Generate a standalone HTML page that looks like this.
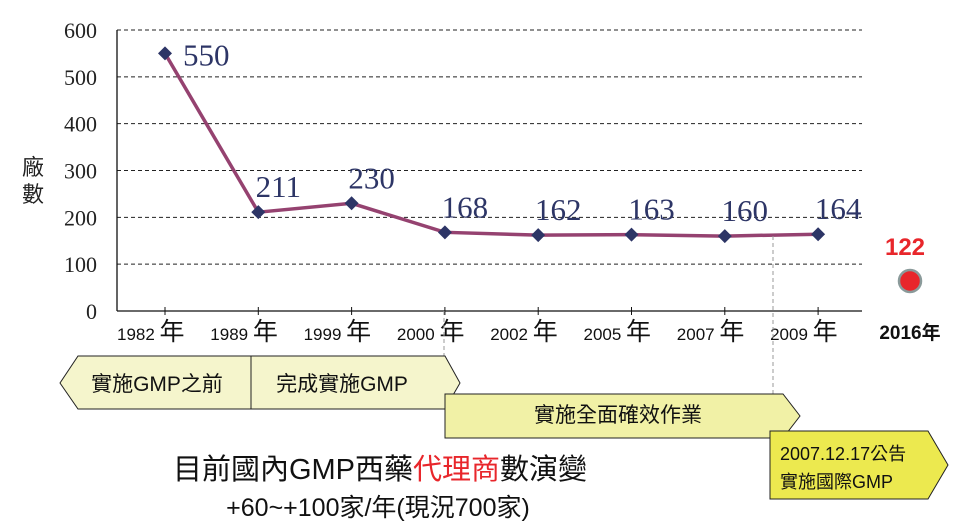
<!DOCTYPE html>
<html><head><meta charset="utf-8"><style>
body{margin:0;background:#fff;}
svg{display:block;}
</style></head><body>
<svg width="954" height="527" viewBox="0 0 954 527" xmlns="http://www.w3.org/2000/svg">
<g id="grid"></g>
<g id="axes"></g>
<g id="series"></g>
<g id="labels"></g>
<text x="30" y="175" font-family="'Liberation Sans','Noto Sans CJK TC',sans-serif" font-size="22" fill="#222"><tspan x="22" dy="0">廠</tspan><tspan x="22" dy="27">數</tspan></text>
<text x="905" y="255" text-anchor="middle" font-family="'Liberation Sans',sans-serif" font-weight="bold" font-size="24" fill="#e8262b">122</text>
<circle cx="910" cy="281" r="11" fill="#e8262b" stroke="#8a9a9a" stroke-width="2.5"/>
<text x="910" y="339" text-anchor="middle" font-family="'Liberation Sans','Noto Sans CJK TC',sans-serif" font-weight="bold" font-size="19" fill="#111">2016年</text>
<line x1="444" y1="311" x2="444" y2="395" stroke="#999" stroke-dasharray="4,3"/>
<line x1="773" y1="236" x2="773" y2="430" stroke="#999" stroke-dasharray="4,3"/>
<g font-family="'Liberation Sans','Noto Sans CJK TC',sans-serif" fill="#111">
<polygon points="78,356 445,356 460,383 445,409 78,409 60,383" fill="#f5f5cc" stroke="#222" stroke-width="1"/>
<line x1="251" y1="356" x2="251" y2="409" stroke="#222"/>
<text x="157" y="391" text-anchor="middle" font-size="21">實施GMP之前</text>
<text x="342" y="391" text-anchor="middle" font-size="21">完成實施GMP</text>
<polygon points="445,394 783,394 800,416 783,438 445,438" fill="#f1f1a6" stroke="#222"/>
<text x="618" y="422" text-anchor="middle" font-size="21">實施全面確效作業</text>
<polygon points="770,431 928,431 948,465 928,499 770,499" fill="#ece94f" stroke="#222"/>
<text x="780" y="460" font-size="18">2007.12.17公告</text>
<text x="780" y="488" font-size="18">實施國際GMP</text>
<text x="380" y="479" text-anchor="middle" font-size="29">目前國內GMP西藥<tspan fill="#e8262b">代理商</tspan>數演變</text>
<text x="378" y="516" text-anchor="middle" font-size="25">+60~+100家/年(現況700家)</text>
</g>
<script>
const categories=["1982 年","1989 年","1999 年","2000 年","2002 年","2005 年","2007 年","2009 年"];
const values=[550,211,230,168,162,163,160,164];
const yTicks=[0,100,200,300,400,500,600];
const NS="http://www.w3.org/2000/svg";
const L=117,R=862,T=30,B=311,step=93.3;
function x(i){return 165+i*step;}
function y(v){return B-(v/600)*(B-T);}
function mk(tag,attrs,parent,txt){const e=document.createElementNS(NS,tag);for(const k in attrs)e.setAttribute(k,attrs[k]);if(txt!==undefined)e.textContent=txt;parent.appendChild(e);return e;}
const grid=document.getElementById('grid'),axes=document.getElementById('axes'),series=document.getElementById('series'),labels=document.getElementById('labels');
yTicks.forEach(t=>{
  if(t>0){const g=mk('line',{x1:L,x2:R,y1:y(t),y2:y(t),stroke:'#222','stroke-dasharray':'4,3','stroke-width':1},grid);
  
  }
  const tl=mk('text',{x:97,y:y(t)+8,'text-anchor':'end','font-family':"'Liberation Serif',serif",'font-size':22,fill:'#222'},axes,String(t));
  
  
});
const ya=mk('line',{x1:L,x2:L,y1:T,y2:B,stroke:'#111','stroke-width':1.3},axes);


const xa=mk('line',{x1:L,x2:R,y1:B,y2:B,stroke:'#111','stroke-width':1.3},axes);


categories.forEach((c,i)=>{
  const tk=mk('line',{x1:x(i),x2:x(i),y1:B-4,y2:B+4,stroke:'#111'},axes);
  
  
  const parts=c.split(' ');
  const tx=mk('text',{x:x(i)-48,y:340,'font-family':"'Liberation Sans','Noto Sans CJK TC',sans-serif",'font-size':17,fill:'#111'},axes);
  
  
  mk('tspan',{},tx,parts[0]+' ');
  mk('tspan',{'font-size':25},tx,parts[1]);
});
const pts=values.map((v,i)=>x(i)+','+y(v)).join(' ');
const pl=mk('polyline',{points:pts,fill:'none',stroke:'#954270','stroke-width':3.5},series);


values.forEach((v,i)=>{
  const cx=x(i),cy=y(v);
  const d=mk('polygon',{points:`${cx},${cy-7} ${cx+7},${cy} ${cx},${cy+7} ${cx-7},${cy}`,fill:'#2d3566'},series);
  
  
  const t=mk('text',{x:i===0?cx+18:cx+20,y:i===0?cy+12:cy-15,'text-anchor':i===0?'start':'middle','font-family':"'Liberation Serif',serif",'font-size':31,fill:'#2d3566'},labels,String(v));
  
  
});
</script>
</svg>
</body></html>
